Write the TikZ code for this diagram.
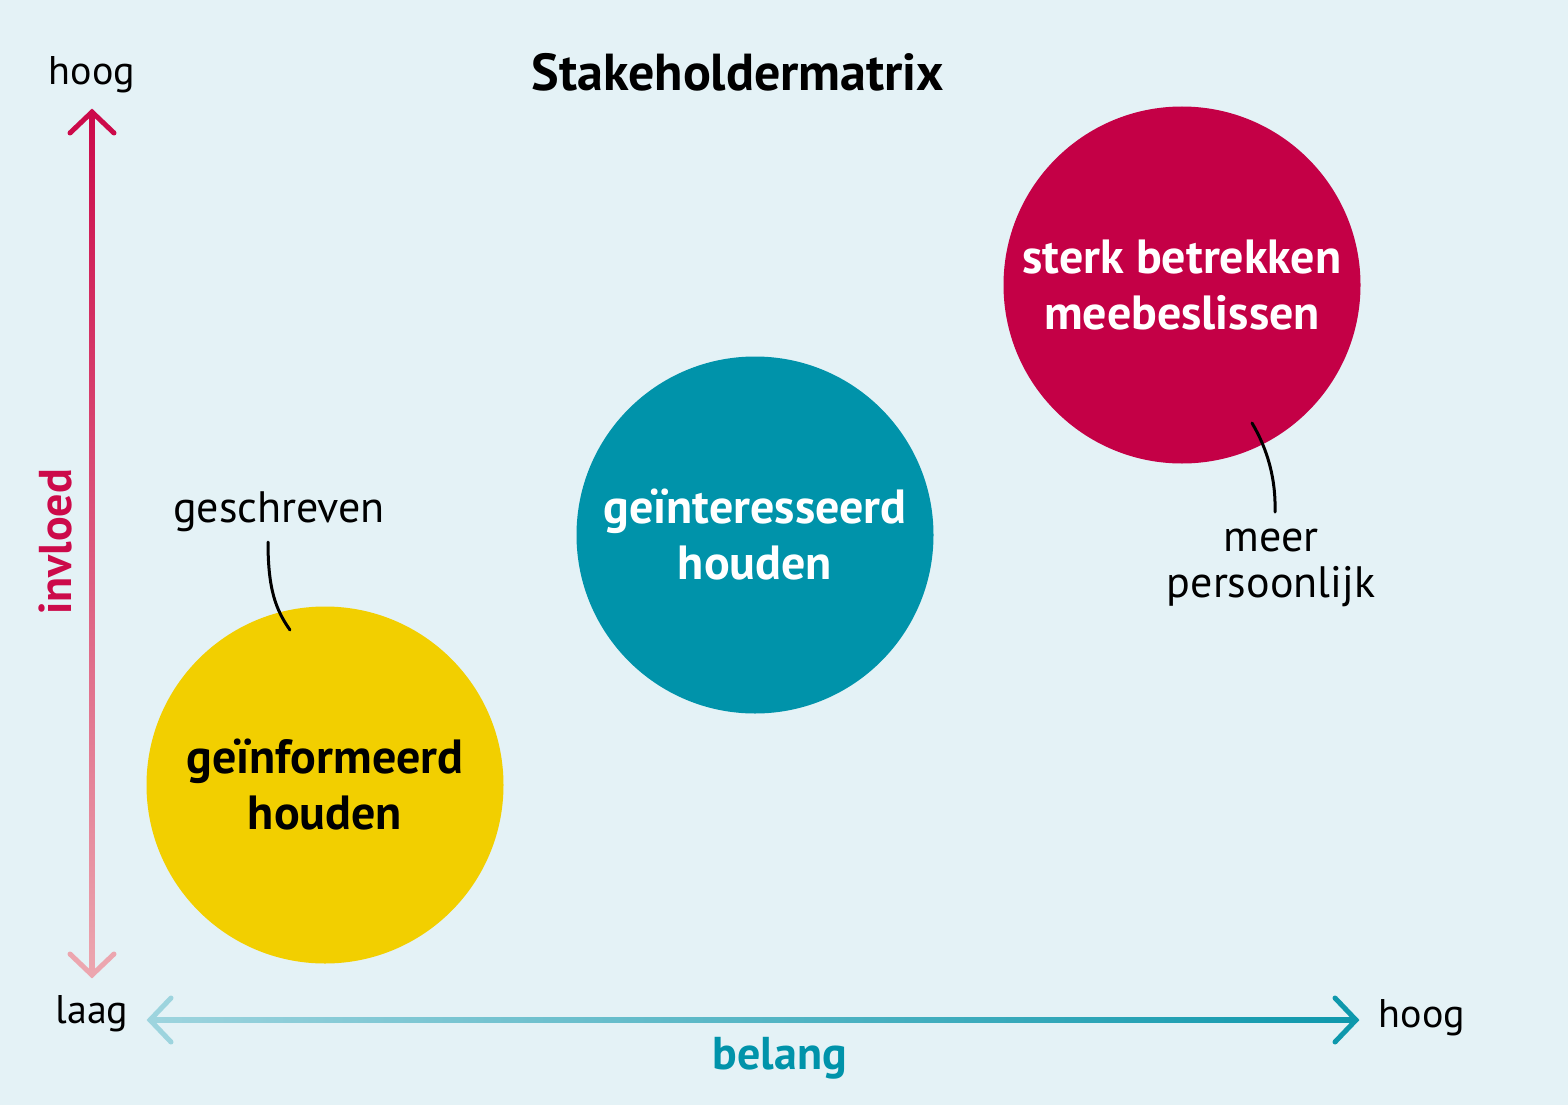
\documentclass[tikz,border=0pt]{standalone}
\usepackage{fontspec}
\setmainfont{PT Sans}
\definecolor{bg}{HTML}{E4F2F6}
\definecolor{cyel}{HTML}{F2CF00}
\definecolor{cteal}{HTML}{0093AA}
\definecolor{cred}{HTML}{C40046}
\definecolor{axred}{HTML}{CC0A4A}
\definecolor{axpink}{HTML}{ECA6AF}
\definecolor{axlteal}{HTML}{9DD4DE}
\definecolor{axteal}{HTML}{0E98AC}
\tikzset{
  bubble/.style={circle, minimum size=357pt, inner sep=0pt, align=center, font=\fontsize{48}{56}\selectfont\bfseries},
  lbl/.style={font=\fontsize{40}{46}\selectfont, text=black, align=center},
  callout/.style={line width=3pt, black, line cap=round},
  chev/.style={line width=5pt, line cap=round, line join=miter}
}
\begin{document}
\begin{tikzpicture}[x=1pt,y=-1pt]
\fill[bg] (0,0) rectangle (1568,1105);
\useasboundingbox (0,0) rectangle (1568,1105);
% title
\node[font=\fontsize{52}{56}\selectfont\bfseries] (title) at (738,72) {Stakeholdermatrix};
% vertical axis
\coordinate (vtop) at (92,112);
\coordinate (vbot) at (92,975);
\shade[top color=axred, bottom color=axpink] (89.5,114) rectangle (94.5,973);
\draw[chev, axred] (70,133) -- (vtop) -- (114,133);
\draw[chev, axpink] (70,954) -- (vbot) -- (114,954);
% horizontal axis
\coordinate (hleft) at (150,1020);
\coordinate (hright) at (1356,1020);
\shade[left color=axlteal, right color=axteal] (152,1017.5) rectangle (1354,1022.5);
\draw[chev, axlteal] (171,998) -- (hleft) -- (171,1042);
\draw[chev, axteal] (1335,998) -- (hright) -- (1335,1042);
% axis labels
\node[lbl] (vhoog) at (92,75) {hoog};
\node[lbl] (vlaag) at (92,1014) {laag};
\node[lbl] (hhoog) at (1422,1018) {hoog};
\node[font=\fontsize{46}{50}\selectfont\bfseries, text=cteal] (belang) at (780,1058) {belang};
\node[font=\fontsize{46}{50}\selectfont\bfseries, text=axred, rotate=90] (invloed) at (55,542) {invloed};
% bubbles
\node[bubble, fill=cyel, text=black] (yel) at (325,785) {geïnformeerd\\houden};
\node[bubble, fill=cteal, text=white] (teal) at (755,535) {geïnteresseerd\\houden};
\node[bubble, fill=cred, text=white] (red) at (1182,285) {sterk betrekken\\meebeslissen};
% callouts
\node[lbl, font=\fontsize{44}{46}\selectfont] (geschr) at (279,512) {geschreven};
\node[lbl, font=\fontsize{44}{46}\selectfont] (meer) at (1271,568) {meer\\persoonlijk};
\draw[callout] (268,542) .. controls (268,590) and (276,610) .. (290,630);
\draw[callout] (1252,423) .. controls (1268,450) and (1276,480) .. (1275,512);
\end{tikzpicture}
\end{document}
